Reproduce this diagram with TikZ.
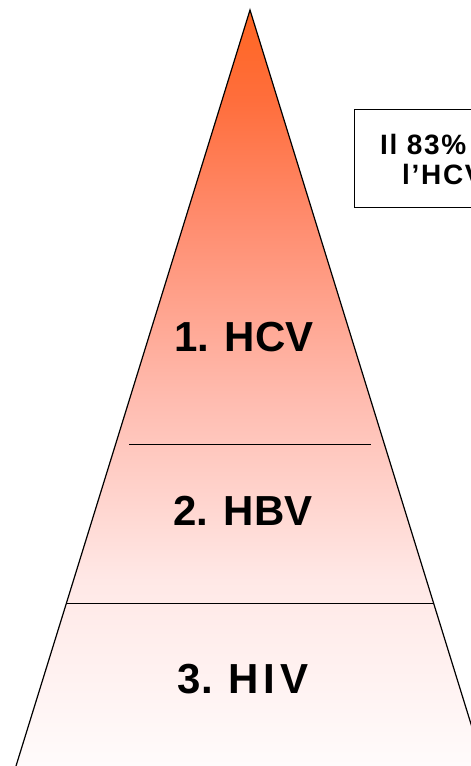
\documentclass[tikz,border=0pt]{standalone}
\usepackage{fontspec}
\setmainfont{Liberation Sans}

\definecolor{tipOrange}{HTML}{FF6622}
\definecolor{fadeOrange}{HTML}{FF6E3C}
\definecolor{fadeSalmon}{HTML}{FF8C6E}
\definecolor{fadePink}{HTML}{FFBCB0}
\definecolor{fadePale}{HTML}{FFE8E6}
\definecolor{fadeWhite}{HTML}{FFFBFB}

\pgfdeclareverticalshading{pyramidfade}{100bp}{color(0bp)=(fadeWhite); color(25bp)=(fadeWhite); color(37.3bp)=(fadePale); color(49.2bp)=(fadePink); color(61.1bp)=(fadeSalmon); color(69bp)=(fadeOrange); color(75bp)=(tipOrange); color(100bp)=(tipOrange)}

\newfontfamily\notefont[LetterSpace=6]{Liberation Sans}

\tikzset{
  levellabel/.style={inner sep=0pt, font=\fontsize{42}{48}\selectfont\bfseries},
  notebox/.style={draw=black, line width=0.8pt, fill=white},
  notetext/.style={inner sep=0pt, anchor=base west, font=\notefont\fontsize{28}{32}\selectfont\bfseries},
}

\begin{document}
\begin{tikzpicture}[x=1pt, y=-1pt]
      \useasboundingbox (0,0) rectangle (471,766);
      \clip (0,0) rectangle (471,766);

      % pyramid
      \shade [shading=pyramidfade] (250,10) -- (16,766) -- (484,766) -- cycle;
      \draw [line width=1.2pt] (16,766) -- (250,10) -- (484,766);
      \draw [line width=0.8pt] (129,444) -- (371,444);
      \draw [line width=0.8pt] (66.2,603) -- (433.8,603);

      \draw (244,337) node [levellabel] (hcv) {1. HCV};
      \draw (243,511) node [levellabel] (hbv) {2. HBV};
      \draw (243,679) node [levellabel] (hiv) {3. H\kern5pt I\kern5pt V};

      % note
      \draw [notebox] (354,109) rectangle (560,207);
      \draw (380,154) node [notetext] (note_a) {Il 83\%};
      \draw (402,184) node [notetext] (note_b) {l’HCV};
\end{tikzpicture}
\end{document}
